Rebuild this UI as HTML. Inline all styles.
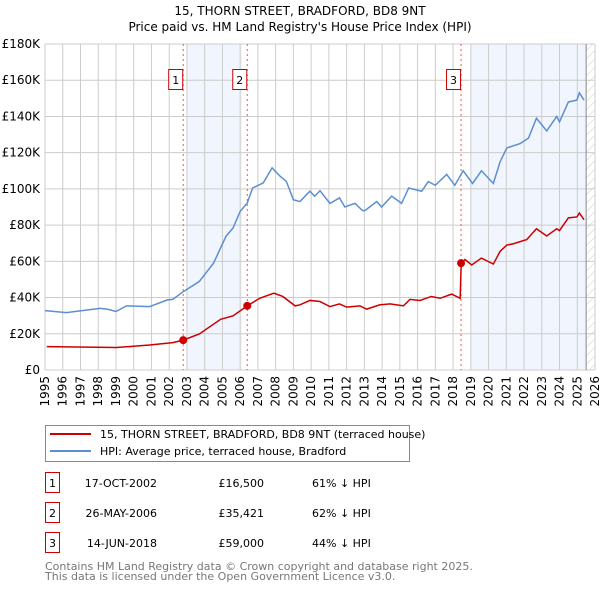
<!DOCTYPE html>
<html><head><meta charset="utf-8"><style>
body{margin:0;background:#fff;width:600px;height:590px;overflow:hidden;font-family:"DejaVu Sans","Liberation Sans",sans-serif;}
svg text{font-family:"DejaVu Sans","Liberation Sans",sans-serif;}
</style></head><body>
<svg id="chart" width="600" height="590">
<defs><pattern id="hatch" width="6" height="6" patternUnits="userSpaceOnUse" patternTransform="rotate(45)"><line x1="0" y1="0" x2="0" y2="6" stroke="#ccc" stroke-width="1"/></pattern></defs>
<text x="300" y="15" text-anchor="middle" font-size="12">15, THORN STREET, BRADFORD, BD8 9NT</text>
<text x="300" y="31" text-anchor="middle" font-size="12">Price paid vs. HM Land Registry's House Price Index (HPI)</text>
<g id="plot"></g>
<g>
<rect x="45.5" y="425.5" width="364" height="36" fill="#fff" stroke="#888"/>
<line x1="50" y1="434" x2="91" y2="434" stroke="#cc0000" stroke-width="2"/>
<text x="100" y="438" font-size="11">15, THORN STREET, BRADFORD, BD8 9NT (terraced house)</text>
<line x1="50" y1="451" x2="91" y2="451" stroke="#5b8fd0" stroke-width="2"/>
<text x="100" y="455" font-size="11">HPI: Average price, terraced house, Bradford</text>
</g>
<g id="table" font-size="11"></g>
<text x="45" y="570" font-size="11" fill="#777">Contains HM Land Registry data © Crown copyright and database right 2025.</text>
<text x="45" y="580" font-size="11" fill="#777">This data is licensed under the Open Government Licence v3.0.</text>
</svg>
<script>
const hpiYears=[1995.0,1996.2,1998.1,1998.5,1999.0,1999.6,2000.9,2001.9,2002.2,2002.8,2003.7,2004.5,2005.2,2005.6,2006.0,2006.4,2006.7,2007.3,2007.8,2008.25,2008.6,2009.0,2009.37,2009.93,2010.2,2010.5,2011.06,2011.6,2011.9,2012.47,2012.9,2013.03,2013.7,2013.97,2014.54,2015.1,2015.5,2016.23,2016.6,2017.0,2017.64,2018.1,2018.57,2019.1,2019.6,2020.27,2020.65,2021.03,2021.78,2022.25,2022.7,2023.28,2023.84,2024.0,2024.5,2024.98,2025.12,2025.38];
const hpiValues=[32.8,31.7,34,33.6,32.3,35.4,35,38.7,39,43.3,48.9,59,73.8,78.4,87.6,92.2,100.5,103.3,111.6,107,104.2,94,93,98.7,96,99,92,95,90,92,88,88,93,90,96,92,100.5,98.7,104,102,108,102,110,103,110,103,115,122.6,125,128,139,132,140,137,148,149,153,149];
const ppYears=[1995.1,1999.04,2000.9,2002.2,2002.79,2003.7,2004.9,2005.6,2006.4,2007.1,2007.9,2008.4,2009.1,2009.37,2009.93,2010.5,2011.06,2011.6,2012.0,2012.75,2013.13,2013.88,2014.45,2015.2,2015.57,2016.14,2016.77,2017.27,2017.92,2018.4,2018.46,2018.67,2019.05,2019.6,2020.27,2020.65,2021.03,2021.4,2022.15,2022.7,2023.28,2023.84,2024.0,2024.5,2024.98,2025.12,2025.38];
const ppValues=[12.9,12.4,13.8,15.1,16.5,19.9,28,29.9,35.4,39.6,42.4,40.6,35.4,36,38.4,37.8,35,36.5,34.7,35.4,33.6,36,36.5,35.4,39,38.4,40.6,39.6,41.9,39.6,59,61,58,61.8,58.5,65.5,69,69.7,72,78,74,78,77,84,84.5,86.7,83];
const sales=[{n:"1",year:2002.79,val:16.5,date:"17-OCT-2002",price:"£16,500",pct:"61% ↓ HPI"},{n:"2",year:2006.4,val:35.421,date:"26-MAY-2006",price:"£35,421",pct:"62% ↓ HPI"},{n:"3",year:2018.45,val:59,date:"14-JUN-2018",price:"£59,000",pct:"44% ↓ HPI"}];
const yTicks=[0,20,40,60,80,100,120,140,160,180];
const xTicks=[1995,1996,1997,1998,1999,2000,2001,2002,2003,2004,2005,2006,2007,2008,2009,2010,2011,2012,2013,2014,2015,2016,2017,2018,2019,2020,2021,2022,2023,2024,2025,2026];
const X0=45,X1=595,Y0=370,Y1=44;
const xs=y=>X0+(y-1995)/(2026-1995)*(X1-X0);
const ys=v=>Y0-v/180*(Y0-Y1);
const NS="http://www.w3.org/2000/svg";
const plot=document.getElementById('plot');
function mk(tag,attrs,parent){const e=document.createElementNS(NS,tag);for(const k in attrs)e.setAttribute(k,attrs[k]);(parent||plot).appendChild(e);return e;}
let e;
e=mk('rect',{x:xs(2003),y:Y1,width:xs(2006.1)-xs(2003),height:Y0-Y1,fill:'#eef3fc',opacity:0.8});


e=mk('rect',{x:xs(2019),y:Y1,width:xs(2025.5)-xs(2019),height:Y0-Y1,fill:'#eef3fc',opacity:0.8});


e=mk('rect',{x:xs(2025.5),y:Y1,width:X1-xs(2025.5),height:Y0-Y1,fill:'url(#hatch)'});


yTicks.forEach(v=>{
 e=mk('line',{x1:X0,x2:X1,y1:ys(v),y2:ys(v),stroke:'#ccc'});
 
 
 e=mk('text',{x:X0-5,y:ys(v)+4,'text-anchor':'end','font-size':12});
 e.textContent=v===0?'£0':'£'+v+'K';
 
 
});
xTicks.forEach(yr=>{
 e=mk('line',{x1:xs(yr),x2:xs(yr),y1:Y1,y2:Y0,stroke:'#ccc'});
 
 
 e=mk('text',{x:0,y:0,'font-size':12,'text-anchor':'end',transform:`translate(${xs(yr)+4},${Y0+6}) rotate(-90)`});
 e.textContent=yr;
 
 
});
e=mk('line',{x1:xs(2025.5),x2:xs(2025.5),y1:Y1,y2:Y0,stroke:'#888'});


sales.forEach(s=>{
 e=mk('line',{x1:xs(s.year),x2:xs(s.year),y1:Y1,y2:Y0,stroke:'#e55','stroke-dasharray':'2,3'});
 
 
});
e=mk('polyline',{points:hpiYears.map((y,i)=>xs(y)+','+ys(hpiValues[i])).join(' '),fill:'none',stroke:'#5b8fd0','stroke-width':1.5});


e=mk('polyline',{points:ppYears.map((y,i)=>xs(y)+','+ys(ppValues[i])).join(' '),fill:'none',stroke:'#cc0000','stroke-width':1.5});


sales.forEach(s=>{
 e=mk('circle',{cx:xs(s.year),cy:ys(s.val),r:4,fill:'#cc0000'});
 
 
 e=mk('rect',{x:xs(s.year)-14.5,y:69.5,width:14,height:20,fill:'#fff',stroke:'#cc0000'});
 
 
 e=mk('text',{x:xs(s.year)-7.5,y:84,'text-anchor':'middle','font-size':11});
 e.textContent=s.n;
 
 
});
const tbl=document.getElementById('table');
sales.forEach((s,i)=>{
 const cy=483+i*30;
 e=mk('rect',{x:45.5,y:cy-10.5,width:14,height:20,fill:'none',stroke:'#cc0000'},tbl);
 
 
 e=mk('text',{x:52.5,y:cy+4,'text-anchor':'middle'},tbl);e.textContent=s.n;
 
 
 e=mk('text',{x:157,y:cy+4,'text-anchor':'end'},tbl);e.textContent=s.date;
 
 
 e=mk('text',{x:264,y:cy+4,'text-anchor':'end'},tbl);e.textContent=s.price;
 
 
 e=mk('text',{x:312,y:cy+4},tbl);e.textContent=s.pct;
 
 
});
</script>
</body></html>
